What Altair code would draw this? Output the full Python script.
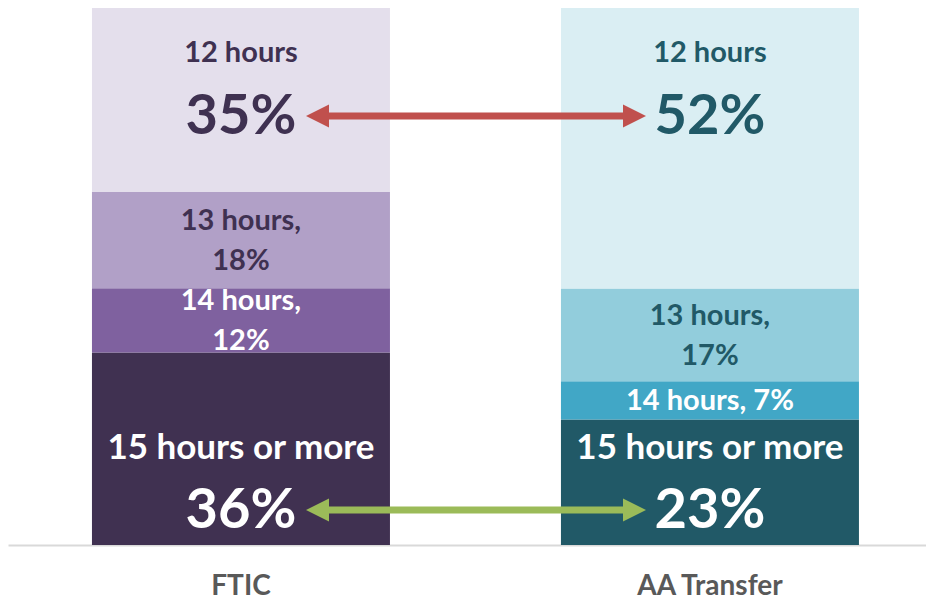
import altair as alt
import pandas as pd

groups = ["FTIC", "AA Transfer"]
segments = ["15 hours or more", "14 hours", "13 hours", "12 hours"]
ftic_values = [36, 12, 18, 35]
aa_values = [23, 7, 17, 52]
mid_labels_ftic = ["", "14 hours,\n12%", "13 hours,\n18%", ""]
mid_labels_aa = ["", "14 hours, 7%", "13 hours,\n17%", ""]

bar_colors = {
    ("FTIC", "12 hours"): "#E4DFEC",
    ("FTIC", "13 hours"): "#B1A0C7",
    ("FTIC", "14 hours"): "#7F619F",
    ("FTIC", "15 hours or more"): "#403151",
    ("AA Transfer", "12 hours"): "#DAEEF3",
    ("AA Transfer", "13 hours"): "#92CDDC",
    ("AA Transfer", "14 hours"): "#41A7C6",
    ("AA Transfer", "15 hours or more"): "#215967",
}
text_colors = {
    ("FTIC", "12 hours"): "#3F3151",
    ("FTIC", "13 hours"): "#3F3151",
    ("FTIC", "14 hours"): "#FFFFFF",
    ("FTIC", "15 hours or more"): "#FFFFFF",
    ("AA Transfer", "12 hours"): "#215967",
    ("AA Transfer", "13 hours"): "#215967",
    ("AA Transfer", "14 hours"): "#FFFFFF",
    ("AA Transfer", "15 hours or more"): "#FFFFFF",
}

rows = []
for g, vals, mids in [("FTIC", ftic_values, mid_labels_ftic), ("AA Transfer", aa_values, mid_labels_aa)]:
    total = sum(vals)
    cum = 0
    for i, (s, v, m) in enumerate(zip(segments, vals, mids)):
        lo = cum / total
        cum += v
        hi = cum / total
        rows.append({
            "group": g, "segment": s, "value": v, "ord": i,
            "mid": (lo + hi) / 2, "top": 1.0, "bottom": 0.0,
            "pct": f"{v}%", "label": m, "multi": "\n" in m, "key": f"{g}|{s}",
        })
df = pd.DataFrame(rows)

keys = [f"{g}|{s}" for (g, s) in bar_colors]
bar_range = [bar_colors[k] for k in bar_colors]
text_range = [text_colors[k] for k in text_colors]

FONT = "Lato"
xenc = alt.X(
    "group:N", sort=groups, title=None,
    scale=alt.Scale(paddingInner=0.3646, paddingOuter=0.161, align=0.556),
    axis=alt.Axis(labelFont=FONT, labelFontSize=28, labelFontWeight="bold",
                  labelColor="#595959", labelPadding=27, ticks=False,
                  domainColor="#D9D9D9", domainWidth=2, labelAngle=0, grid=False),
)
yscale = alt.Scale(domain=[0, 0.9944], nice=False, zero=True)

base = alt.Chart(df)

bars = base.mark_bar(clip=True).encode(
    x=xenc,
    y=alt.Y("value:Q", stack="normalize", scale=yscale, axis=None),
    color=alt.Color("key:N", scale=alt.Scale(domain=keys, range=bar_range), legend=None),
    order=alt.Order("ord:Q", sort="ascending"),
)

tcolor = alt.Color("key:N", scale=alt.Scale(domain=keys, range=text_range), legend=None)

mid_multi = base.transform_filter(alt.datum.multi).mark_text(
    font=FONT, fontSize=29, fontWeight="bold", lineBreak="\n", lineHeight=40,
    baseline="middle", dy=-19
).encode(x=xenc, y=alt.Y("mid:Q", scale=yscale, axis=None), text="label:N", color=tcolor)

mid_single = base.transform_filter(
    (alt.datum.label != "") & (~alt.datum.multi)
).mark_text(
    font=FONT, fontSize=29, fontWeight="bold", baseline="middle", dy=1
).encode(x=xenc, y=alt.Y("mid:Q", scale=yscale, axis=None), text="label:N", color=tcolor)

top_label = base.transform_filter(alt.datum.segment == "12 hours").mark_text(
    font=FONT, fontSize=29, fontWeight="bold", baseline="middle", dy=48
).encode(x=xenc, y=alt.Y("top:Q", scale=yscale, axis=None), text="segment:N", color=tcolor)

top_pct = base.transform_filter(alt.datum.segment == "12 hours").mark_text(
    font=FONT, fontSize=56, fontWeight="bold", baseline="middle", dy=112
).encode(x=xenc, y=alt.Y("top:Q", scale=yscale, axis=None), text="pct:N", color=tcolor)

bot_label = base.transform_filter(alt.datum.segment == "15 hours or more").mark_text(
    font=FONT, fontSize=35, fontWeight="bold", baseline="middle", dy=-97
).encode(x=xenc, y=alt.Y("bottom:Q", scale=yscale, axis=None), text="segment:N", color=tcolor)

bot_pct = base.transform_filter(alt.datum.segment == "15 hours or more").mark_text(
    font=FONT, fontSize=56, fontWeight="bold", baseline="middle", dy=-34
).encode(x=xenc, y=alt.Y("bottom:Q", scale=yscale, axis=None), text="pct:N", color=tcolor)

one = pd.DataFrame({"a": [0]})


def arrow(y, x_left, x_right, color):
    shaft = alt.Chart(one).mark_rule(strokeWidth=7, color=color).encode(
        x=alt.value(x_left + 6), x2=alt.value(x_right - 6), y=alt.value(y)
    )
    lh = alt.Chart(one).mark_point(shape="M1,-1L-1,0L1,1Z", size=529, filled=True,
                                    opacity=1, color=color, strokeWidth=0).encode(
        x=alt.value(x_left), y=alt.value(y))
    rh = alt.Chart(one).mark_point(shape="M-1,-1L1,0L-1,1Z", size=529, filled=True,
                                    opacity=1, color=color, strokeWidth=0).encode(
        x=alt.value(x_right), y=alt.value(y))
    return [shaft, lh, rh]


red = arrow(108, 309.5, 626.5, "#C0504D")
green = arrow(502, 309.5, 626.5, "#9BBB59")

chart = alt.layer(
    bars, mid_multi, mid_single, top_label, top_pct, bot_label, bot_pct, *red, *green
).resolve_scale(color="independent").properties(
    width=918, height=537, padding=0, background="white"
).configure_view(strokeWidth=0, stroke="transparent")

chart.save("out.html", embed_options={"renderer": "svg", "actions": False})
